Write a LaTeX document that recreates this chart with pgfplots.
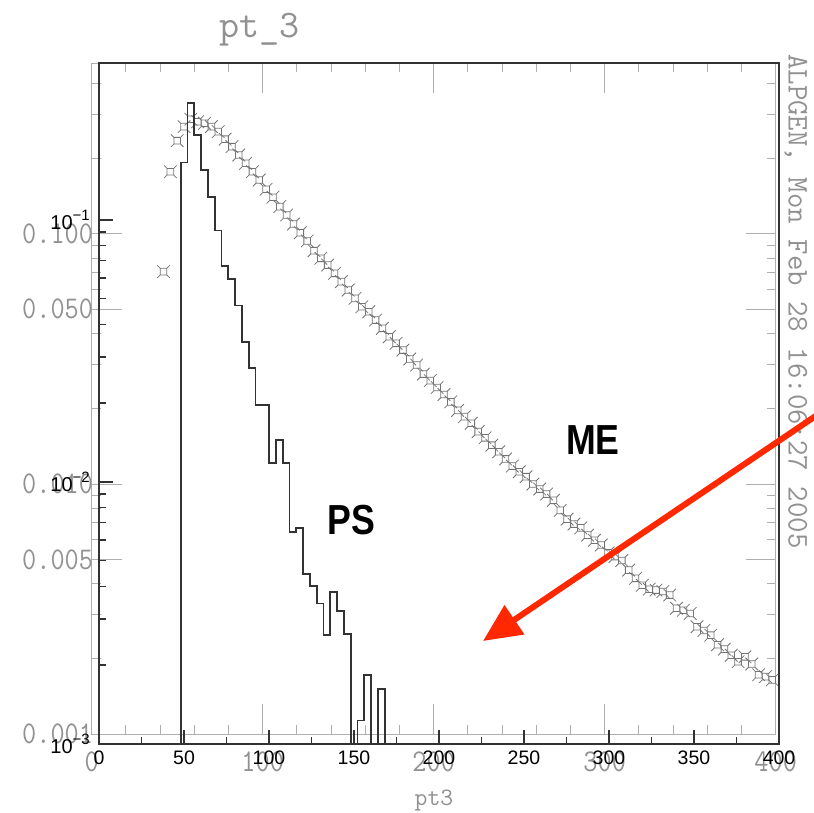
\documentclass[border=0pt]{standalone}
\usepackage{pgfplots}
\pgfplotsset{compat=1.18}
\usepackage{graphicx}
\usepackage{fontspec}
\usetikzlibrary{arrows.meta}
\setmainfont{Liberation Sans}
\definecolor{gtext}{RGB}{145,145,145}
\definecolor{gline}{RGB}{175,175,175}
\definecolor{gmark}{RGB}{115,115,115}
\definecolor{dark}{RGB}{50,50,50}
\definecolor{arrowred}{RGB}{255,40,0}
\newcommand\gl[1]{\scalebox{1}[1.15]{\ttfamily\fontsize{27.5bp}{30bp}\selectfont #1}}
\newcommand\bl[1]{{\fontsize{19.5bp}{23bp}\selectfont #1}}
\newcommand\bexp[1]{{\fontsize{20bp}{23bp}\selectfont 10\raisebox{0.42em}{\fontsize{15bp}{15bp}\selectfont #1}}}
\pgfdeclareplotmark{hb}{%
  \pgfpathrectangle{\pgfqpoint{-3.3bp}{-3.3bp}}{\pgfqpoint{6.6bp}{6.6bp}}%
  \pgfpathmoveto{\pgfqpoint{3.3bp}{3.3bp}}\pgfpathlineto{\pgfqpoint{6.3bp}{6.3bp}}%
  \pgfpathmoveto{\pgfqpoint{-3.3bp}{3.3bp}}\pgfpathlineto{\pgfqpoint{-6.3bp}{6.3bp}}%
  \pgfpathmoveto{\pgfqpoint{3.3bp}{-3.3bp}}\pgfpathlineto{\pgfqpoint{6.3bp}{-6.3bp}}%
  \pgfpathmoveto{\pgfqpoint{-3.3bp}{-3.3bp}}\pgfpathlineto{\pgfqpoint{-6.3bp}{-6.3bp}}%
  \pgfusepathqstroke}

\pgfplotstableread{
x y
42 0.0706
46 0.177
50 0.2355
54 0.268
58 0.2868
62 0.2805
66 0.2764
70 0.268
74 0.256
78 0.2388
82 0.2229
86 0.2065
90 0.1913
94 0.177
98 0.164
102 0.1506
106 0.140
110 0.1284
114 0.1189
118 0.1094
122 0.1010
126 0.0936
130 0.0856
134 0.0798
138 0.0750
142 0.0695
146 0.0644
150 0.0596
154 0.0552
158 0.0511
162 0.0488
166 0.0452
170 0.0419
174 0.0388
178 0.0365
182 0.0343
186 0.0316
190 0.0299
194 0.0275
198 0.0259
202 0.0243
206 0.0228
210 0.0213
214 0.0197
218 0.0186
222 0.0175
226 0.0162
230 0.0153
234 0.0143
238 0.01346
242 0.0126
246 0.0118
250 0.0112
254 0.0107
258 0.0100
262 0.00955
266 0.00912
270 0.00861
274 0.00785
278 0.00724
282 0.00692
286 0.00668
290 0.00625
294 0.00596
298 0.00571
302 0.00531
306 0.00513
310 0.00495
314 0.00453
318 0.0042
322 0.00394
326 0.0038
330 0.00377
334 0.00372
338 0.0036
342 0.00319
346 0.00313
350 0.00304
354 0.00269
358 0.0026
362 0.00249
366 0.00228
370 0.00219
374 0.00207
378 0.00195
382 0.00204
386 0.00191
390 0.00173
394 0.0017
398 0.00165
}\metable

\pgfplotstableread{
x y
44 0.00001
48 0.1655
52 0.280
56 0.211
60 0.155
64 0.1227
68 0.0911
72 0.0669
76 0.0595
80 0.0471
84 0.0341
88 0.0272
92 0.0197
96 0.0197
100 0.0118
104 0.01445
108 0.0118
112 0.00646
116 0.00666
120 0.00446
124 0.00401
128 0.00344
132 0.00261
136 0.00381
140 0.00322
144 0.00262
148 0.00001
152 0.00123
156 0.00183
160 0.00001
164 0.00162
168 0.00001
172 0.00001
}\pstable

\begin{document}
\begin{tikzpicture}[x=1bp,y=1bp]
\useasboundingbox (0,0) rectangle (814,813);
% gray (ME) frame
\begin{axis}[at={(91.7bp,78.7bp)}, anchor=south west, scale only axis,
  width=684bp, height=671bp,
  xmin=0, xmax=400, ymode=log, ymin=0.001, ymax=0.48,
  axis line style={gline, line width=1bp},
  tick align=inside, xtick pos=both, ytick pos=both,
  tick style={gline, line width=1bp},
  major tick length=30bp, minor tick length=9bp,
  xtick={0,100,200,300,400},
  xticklabels={\gl{0},\gl{100},\gl{200},\gl{300},\gl{400}},
  minor x tick num=4,
  ytick={0.001,0.005,0.01,0.05,0.1},
  yticklabels={\gl{0.001},\gl{0.005},\gl{0.010},\gl{0.050},\gl{0.100}},
  minor ytick={0.002,0.003,0.004,0.006,0.007,0.008,0.009,0.02,0.03,0.04,0.06,0.07,0.08,0.09,0.2,0.3,0.4},
  xticklabel style={gtext, inner sep=0pt, anchor=north, yshift=-17bp},
  yticklabel style={gtext, inner sep=0pt, anchor=east, xshift=1.5bp},
]
\addplot[only marks, mark=hb, mark options={gmark, line width=0.8bp}] table[x=x,y=y] {\metable};
\end{axis}
% black (PS) frame
\begin{axis}[at={(99bp,69bp)}, anchor=south west, scale only axis,
  width=680bp, height=681bp,
  xmin=0, xmax=400, ymode=log, ymin=0.001, ymax=0.397,
  axis line style={dark, line width=1.8bp},
  tick align=inside, xtick pos=bottom, ytick pos=left,
  tick style={dark, line width=1.3bp},
  major tick length=14bp, minor tick length=7bp,
  xtick={0,50,100,150,200,250,300,350,400},
  xticklabels={\bl{0},\bl{50},\bl{100},\bl{150},\bl{200},\bl{250},\bl{300},\bl{350},\bl{400}},
  minor x tick num=1,
  ytick={0.001,0.01,0.1},
  yticklabels={\bexp{−3},\bexp{−2},\bexp{−1}},
  xticklabel style={black, inner sep=0pt, anchor=north, yshift=-7bp},
  yticklabel style={black, inner sep=0pt, anchor=east, xshift=-9bp},
]
\addplot[const plot, dark, line width=1.8bp] table[x=x,y=y] {\pstable};
\end{axis}
% texts
\node[gtext, inner sep=0pt, font=\ttfamily\fontsize{39bp}{42bp}\selectfont] at (259.5,783) {pt\_3};
\node[gtext, inner sep=0pt, font=\ttfamily\fontsize{25bp}{28bp}\selectfont] at (434,13) {pt3};
\node[gtext, inner sep=0pt, rotate=-90, anchor=west, font=\ttfamily\fontsize{30bp}{32bp}\selectfont] at (796,759) {ALPGEN, Mon Feb 28 16:06:27 2005};
\node[inner sep=0pt, font=\bfseries\fontsize{42bp}{46bp}\selectfont] at (593,373) {\scalebox{0.85}[1]{ME}};
\node[inner sep=0pt, font=\bfseries\fontsize{42bp}{46bp}\selectfont] at (351,293) {\scalebox{0.85}[1]{PS}};
\draw[arrowred, line width=6bp, -{Triangle[length=38bp,width=34bp]}] (818,398.6) -- (483,172);
\end{tikzpicture}
\end{document}
